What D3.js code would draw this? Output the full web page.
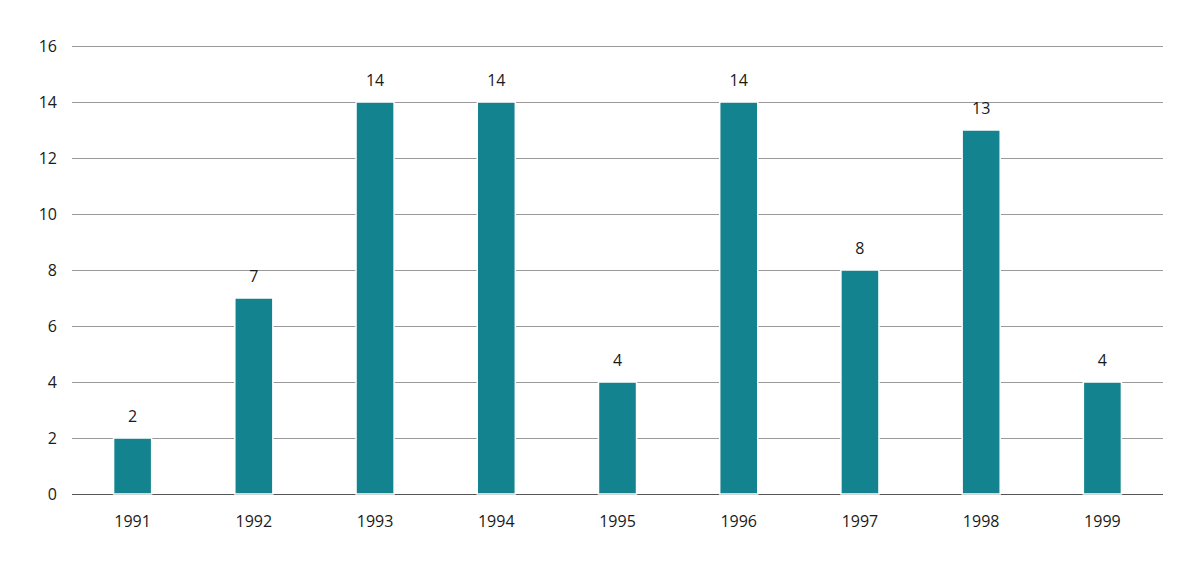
<!DOCTYPE html>
<html>
<head>
<meta charset="utf-8">
<script src="https://cdn.jsdelivr.net/npm/d3@7"></script>
<style>
  body { margin: 0; background: #fff; }
  text { font-family: "Open Sans", "DejaVu Sans", sans-serif; font-size: 16px; fill: #1a1a1a; }
</style>
</head>
<body>
<svg id="chart" width="1198" height="568"></svg>
<script>
const YEARS = ['1991', '1992', '1993', '1994', '1995', '1996', '1997', '1998', '1999'];
const COUNTS = [2, 7, 14, 14, 4, 14, 8, 13, 4];
const Y_TICKS = [0, 2, 4, 6, 8, 10, 12, 14, 16];

const svg = d3.select('#chart');
const plotLeft = 72, plotRight = 1163, plotTop = 46, plotBottom = 494;

const x = d3.scaleBand().domain(YEARS).range([plotLeft, plotRight]).paddingInner(0.686).paddingOuter(0.343);
const y = d3.scaleLinear().domain([0, 16]).range([plotBottom, plotTop]);

// gridlines
svg.append('g')
  .selectAll('line')
  .data(Y_TICKS)
  .enter().append('line')
  .attr('x1', plotLeft).attr('x2', plotRight)
  .attr('y1', function(d) { return y(d); }).attr('y2', function(d) { return y(d); })
  .attr('stroke', function(d) { return d === 0 ? '#555' : '#999'; })
  .attr('stroke-width', 1)
  .attr('shape-rendering', 'crispEdges');

// y labels
svg.append('g')
  .selectAll('text')
  .data(Y_TICKS)
  .enter().append('text')
  .attr('x', 57)
  .attr('y', function(d) { return y(d); })
  .attr('dy', '0.35em')
  .attr('text-anchor', 'end')
  .text(function(d) { return d; });

// bars
svg.append('g')
  .selectAll('rect')
  .data(COUNTS)
  .enter().append('rect')
  .attr('x', function(d, i) { return x(YEARS[i]); })
  .attr('width', x.bandwidth())
  .attr('y', function(d) { return y(d); })
  .attr('height', function(d) { return y(0) - y(d); })
  .attr('fill', '#13838f')
  .attr('stroke', '#fff')
  .attr('stroke-width', 1.5);

// value labels
svg.append('g')
  .selectAll('text')
  .data(COUNTS)
  .enter().append('text')
  .attr('x', function(d, i) { return x(YEARS[i]) + x.bandwidth() / 2; })
  .attr('y', function(d) { return y(d) - 16; })
  .attr('text-anchor', 'middle')
  .text(function(d) { return d; });

// x labels
svg.append('g')
  .selectAll('text')
  .data(YEARS)
  .enter().append('text')
  .attr('x', function(d) { return x(d) + x.bandwidth() / 2; })
  .attr('y', 527)
  .attr('text-anchor', 'middle')
  .text(function(d) { return d; });
</script>
</body>
</html>
